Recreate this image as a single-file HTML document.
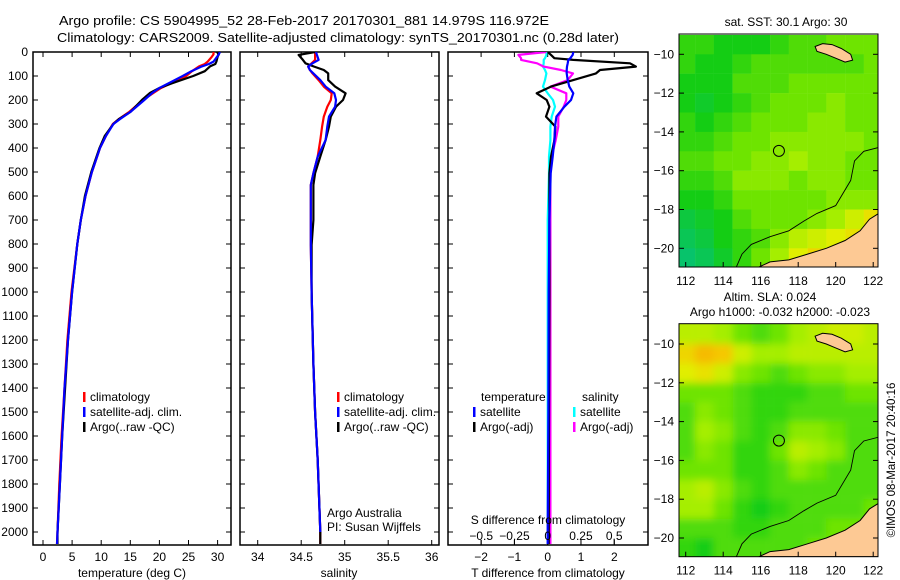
<!DOCTYPE html>
<html><head><meta charset="utf-8">
<style>
html,body{margin:0;padding:0;background:#fff;}
svg{display:block;font-family:"Liberation Sans",sans-serif;}
text{fill:#000;}
</style></head>
<body>
<svg id="fig" width="900" height="580" viewBox="0 0 900 580" xmlns="http://www.w3.org/2000/svg">
<defs>
<clipPath id="c1"><rect x="33" y="52" width="198" height="493"/></clipPath>
<clipPath id="c2"><rect x="240" y="52" width="199" height="493"/></clipPath>
<clipPath id="c3"><rect x="448" y="52" width="200" height="493"/></clipPath>
<clipPath id="cm1"><rect x="679" y="34" width="199" height="233"/></clipPath>
<clipPath id="cm2"><rect x="679" y="324" width="199" height="233"/></clipPath>
<filter id="blur" x="-5%" y="-5%" width="110%" height="110%"><feGaussianBlur stdDeviation="4"/></filter>
</defs>
<text x="59" y="25" font-size="13" textLength="490" lengthAdjust="spacingAndGlyphs">Argo profile: CS 5904995_52 28-Feb-2017 20170301_881 14.979S 116.972E</text>
<text x="57" y="42" font-size="13" textLength="562" lengthAdjust="spacingAndGlyphs">Climatology: CARS2009. Satellite-adjusted climatology: synTS_20170301.nc (0.28d later)</text>
<g id="g1"></g>
<g id="g2"></g>
<g id="g3"></g>
<g id="m1"></g>
<g id="m2"></g>
<text x="786" y="26" font-size="12" text-anchor="middle">sat. SST: 30.1 Argo: 30</text>
<text x="770" y="301" font-size="12" text-anchor="middle">Altim. SLA: 0.024</text>
<text x="780" y="316" font-size="12" text-anchor="middle">Argo h1000: -0.032 h2000: -0.023</text>
<text transform="translate(895,460) rotate(-90)" font-size="11.5" text-anchor="middle">©IMOS 08-Mar-2017 20:40:16</text>
</svg>
<script>
// ---- profile data ----
const depthT=[0,10,20,40,50,60,80,100,130,150,170,200,250,280,300,350,400,500,600,700,800,1000,1200,1400,1600,1800,2000,2050];
const tempClim=[29.3,29.3,29.0,28.3,27.8,26.8,25.6,24.6,22.0,20.3,19.0,17.2,14.8,13.0,12.0,10.8,9.8,8.4,7.3,6.5,5.9,4.9,4.2,3.7,3.2,2.8,2.5,2.4];
const tempSat=[30.4,30.2,29.9,29.3,28.5,27.3,25.5,24.0,21.6,20.0,18.8,17.4,15.0,13.2,12.1,10.8,9.8,8.4,7.3,6.5,5.9,5.0,4.3,3.7,3.3,2.9,2.5,2.4];
const tempArgo=[29.9,30.2,30.0,29.8,29.6,28.7,27.8,25.8,22.2,20.0,18.4,17.0,15.0,13.0,12.1,10.6,9.7,8.3,7.2,6.5,5.9,5.0,4.3,3.8,3.3,2.9,2.5,2.5];
const depthS=[0,12,33,47,61,75,89,117,144,172,200,228,269,311,367,436,505,554,700,804,1000,1300,1500,1700,2000,2050];
const salClim=[34.66,34.66,34.66,34.62,34.58,34.60,34.63,34.70,34.76,34.85,34.84,34.80,34.76,34.74,34.72,34.69,34.64,34.61,34.61,34.61,34.62,34.64,34.66,34.69,34.72,34.72];
const salSat=[34.67,34.68,34.70,34.63,34.58,34.60,34.64,34.72,34.78,34.88,34.90,34.89,34.82,34.80,34.78,34.69,34.64,34.61,34.61,34.61,34.62,34.64,34.66,34.69,34.72,34.72];
const salArgo=[34.66,34.47,34.52,34.55,34.65,34.76,34.81,34.81,34.89,35.01,34.98,34.90,34.84,34.82,34.78,34.72,34.66,34.64,34.64,34.62,34.62,34.64,34.66,34.69,34.72,34.72];
const depthD=[0,12,26,33,47,61,75,89,117,144,172,200,228,269,311,367,436,505,700,1000,1500,2000,2050];
const dTsat=[0.77,0.75,0.68,0.62,0.6,0.58,0.57,0.57,0.6,0.65,0.77,0.7,0.5,0.26,0.22,0.2,0.15,0.09,0.05,0.03,0.02,0.0,0.0];
const dTargo=[0.0,0.1,0.2,0.77,2.47,2.65,1.57,1.45,0.77,0.1,-0.33,-0.03,0.05,-0.05,0.23,0.2,0.1,0.05,0.05,0.05,0.04,0.03,0.03];
const dSsat=[-0.01,-0.01,-0.02,-0.03,-0.03,-0.035,-0.02,-0.01,-0.02,-0.035,0.0,0.04,0.055,0.03,0.02,0.02,0.01,0.01,0.0,0.0,0.0,0.0,0.0];
const dSargo=[-0.01,-0.22,-0.2,-0.2,-0.08,-0.03,0.1,0.19,0.15,0.02,0.14,0.14,0.12,0.08,0.08,0.06,0.03,0.02,0.02,0.02,0.02,0.02,0.02];
const depthTicks=[0,100,200,300,400,500,600,700,800,900,1000,1100,1200,1300,1400,1500,1600,1700,1800,1900,2000];
const tTicks=[0,5,10,15,20,25,30];
const sTicks=[34,34.5,35,35.5,36];
const sTickLabels=["34","34.5","35","35.5","36"];
const dTTicks=[-2,-1,0,1,2];
const dSTicks=[-0.5,-0.25,0,0.25,0.5];
const dSTickLabels=["\u22120.5","\u22120.25","0","0.25","0.5"];
// ---- map data (coarse cells, value 0..1) ----
const mapLons=[112,113,114,115,116,117,118,119,120,121,122];
const mapLats=[-9.5,-10.5,-11.5,-12.5,-13.5,-14.5,-15.5,-16.5,-17.5,-18.5,-19.5,-20.5];
const sstGrid=[
[.35,.35,.3,.3,.3,.35,.4,.4,.45,.45,.45],
[.35,.3,.3,.35,.4,.4,.4,.4,.4,.4,.45],
[.3,.3,.3,.4,.4,.4,.45,.45,.45,.45,.45],
[.3,.25,.3,.35,.4,.45,.45,.45,.5,.45,.45],
[.35,.3,.35,.4,.45,.45,.45,.5,.5,.45,.45],
[.35,.35,.4,.45,.45,.5,.5,.5,.5,.5,.45],
[.4,.4,.45,.45,.5,.5,.55,.5,.5,.45,.45],
[.35,.35,.4,.5,.5,.5,.45,.5,.5,.45,.45],
[.3,.3,.35,.45,.45,.45,.45,.45,.5,.5,.5],
[.2,.25,.3,.4,.45,.45,.45,.5,.55,.65,.75],
[.15,.2,.3,.35,.4,.5,.6,.65,.7,.75,.8],
[.1,.15,.25,.35,.45,.55,.7,.8,.8,.8,.8]];
const slaGrid=[
[.6,.6,.55,.45,.4,.45,.55,.6,.65,.65,.6],
[.8,.9,.85,.65,.55,.55,.6,.6,.6,.6,.6],
[.7,.75,.65,.5,.45,.4,.45,.5,.5,.55,.55],
[.45,.45,.45,.4,.35,.35,.35,.4,.4,.45,.45],
[.4,.5,.45,.4,.35,.35,.4,.4,.4,.4,.4],
[.4,.55,.5,.4,.35,.4,.5,.5,.45,.4,.4],
[.4,.5,.45,.35,.35,.45,.6,.55,.5,.4,.4],
[.45,.45,.45,.35,.35,.4,.5,.45,.4,.4,.4],
[.55,.6,.5,.4,.35,.4,.4,.4,.4,.4,.4],
[.55,.55,.45,.35,.3,.35,.4,.4,.4,.4,.45],
[.4,.4,.4,.35,.35,.4,.4,.4,.45,.45,.45],
[.35,.3,.4,.4,.4,.4,.4,.45,.45,.45,.45]];
const mapLonTicks=[112,114,116,118,120,122];
const mapLatTicks=[-10,-12,-14,-16,-18,-20];
const coastLon=[115.9,116.5,117.5,118.5,119.5,120.5,121.3,121.8,122.3,122.3,115.9];
const coastLat=[-20.97,-20.7,-20.6,-20.3,-20.0,-19.6,-19.1,-18.5,-18.2,-20.97,-20.97];
const islandLon=[118.9,119.3,119.8,120.3,120.8,120.9,120.5,120.0,119.5,119.0];
const islandLat=[-9.6,-9.45,-9.5,-9.7,-10.0,-10.3,-10.4,-10.2,-10.0,-9.85];
const bathLon=[114.7,115.0,115.5,116.5,117.5,118.3,119.0,120.0,120.8,121.0,121.5,122.3];
const bathLat=[-20.97,-20.3,-19.8,-19.4,-19.1,-18.6,-18.2,-17.8,-16.5,-15.5,-15.0,-14.8];
const argoLon=116.972, argoLat=-14.979;

const NS="http://www.w3.org/2000/svg";
function mk(tag,attrs,parent){const e=document.createElementNS(NS,tag);for(const k in attrs)e.setAttribute(k,attrs[k]);parent.appendChild(e);return e;}
const yD=d=>52+d*0.24;
const xT=t=>43+t*5.82;
const xS=s=>257.7+(s-34)*87;
const xDT=t=>547.7+t*33.3;
const xDS=s=>547.7+s*133;

function frame(g,x0,x1,ticksX,ticksY){
  const r=mk('rect',{x:x0,y:52,width:x1-x0,height:493,fill:'none',stroke:'#000','stroke-width':1.5},g);
  
  
  ticksY.forEach(d=>{const y=yD(d);
    mk('line',{x1:x0,x2:x0+5,y1:y,y2:y,stroke:'#000'},g);
    mk('line',{x1:x1,x2:x1-5,y1:y,y2:y,stroke:'#000'},g);});
  ticksX.forEach(x=>{mk('line',{x1:x,x2:x,y1:545,y2:540,stroke:'#000'},g);mk('line',{x1:x,x2:x,y1:52,y2:57,stroke:'#000'},g);});
}
function line(g,xs,ds,xf,color,clip,name){
  const pts=xs.map((v,i)=>xf(v).toFixed(1)+','+yD(ds[i]).toFixed(1)).join(' ');
  const p=mk('polyline',{points:pts,fill:'none',stroke:color,'stroke-width':2.2,'clip-path':clip,'stroke-linejoin':'round'},g);
  
  
}
function txt(g,x,y,s,opts,name){const t=mk('text',Object.assign({x:x,y:y,'font-size':12},opts||{}),g);t.textContent=s;
  
  
  return t;}
function legend(g,x,y,color,label,name){
  const r=mk('rect',{x:x,y:y-9,width:2.5,height:10,fill:color},g);
  
  
  txt(g,x+7,y,label,{},name);
}

// panel 1
const g1=document.getElementById('g1');
frame(g1,33,231,tTicks.map(xT),depthTicks);
depthTicks.forEach(d=>txt(g1,28,yD(d)+4,String(d),{'text-anchor':'end'},'depth-tick-label'));
tTicks.forEach(t=>txt(g1,xT(t),561,String(t),{'text-anchor':'middle'},'temp-tick-label'));
txt(g1,132,577,'temperature (deg C)',{'text-anchor':'middle'},'temp-axis-title');
line(g1,tempClim,depthT,xT,'#f00','url(#c1)','temp-climatology-line');
line(g1,tempArgo,depthT,xT,'#000','url(#c1)','temp-argo-line');
line(g1,tempSat,depthT,xT,'#00f','url(#c1)','temp-satellite-line');
legend(g1,83,401,'#f00','climatology','legend-climatology');
legend(g1,83,416,'#00f','satellite-adj. clim.','legend-satellite');
legend(g1,83,431,'#000','Argo(..raw -QC)','legend-argo');

// panel 2
const g2=document.getElementById('g2');
frame(g2,240,439,sTicks.map(xS),depthTicks);
sTicks.forEach((s,i)=>txt(g2,xS(s),561,sTickLabels[i],{'text-anchor':'middle'},'sal-tick-label'));
txt(g2,339,577,'salinity',{'text-anchor':'middle'},'sal-axis-title');
line(g2,salClim,depthS,xS,'#f00','url(#c2)','sal-climatology-line');
line(g2,salArgo,depthS,xS,'#000','url(#c2)','sal-argo-line');
line(g2,salSat,depthS.map(d=>Math.min(d,2000)),xS,'#00f','url(#c2)','sal-satellite-line');
legend(g2,337,401,'#f00','climatology','legend-climatology');
legend(g2,337,416,'#00f','satellite-adj. clim.','legend-satellite');
legend(g2,337,431,'#000','Argo(..raw -QC)','legend-argo');
txt(g2,327,517,'Argo Australia',{},'credit-argo-australia');
txt(g2,327,531,'PI: Susan Wijffels',{},'credit-pi');

// panel 3
const g3=document.getElementById('g3');
frame(g3,448,648,dTTicks.map(xDT),depthTicks);
dSTicks.forEach(s=>mk('line',{x1:xDS(s),x2:xDS(s),y1:545,y2:540,stroke:'#000'},g3));
line(g3,dSsat,depthD,xDS,'#0ff','url(#c3)','sdiff-satellite-line');
line(g3,dSargo,depthD,xDS,'#f0f','url(#c3)','sdiff-argo-line');
line(g3,dTargo,depthD,xDT,'#000','url(#c3)','tdiff-argo-line');
line(g3,dTsat,depthD,xDT,'#00f','url(#c3)','tdiff-satellite-line');
dTTicks.forEach(t=>txt(g3,xDT(t),561,t<0?'\u2212'+Math.abs(t):String(t),{'text-anchor':'middle'},'tdiff-tick-label'));
dSTicks.forEach((s,i)=>txt(g3,xDS(s),540,dSTickLabels[i],{'text-anchor':'middle'},'sdiff-tick-label'));
txt(g3,548,524,'S difference from climatology',{'text-anchor':'middle'},'sdiff-axis-title');
txt(g3,548,577,'T difference from climatology',{'text-anchor':'middle'},'tdiff-axis-title');
txt(g3,481,401,'temperature',{},'legend-temperature-heading');
txt(g3,582,401,'salinity',{},'legend-salinity-heading');
legend(g3,473,416,'#00f','satellite','legend-t-satellite');
legend(g3,473,431,'#000','Argo(-adj)','legend-t-argo');
legend(g3,573,416,'#0ff','satellite','legend-s-satellite');
legend(g3,573,431,'#f0f','Argo(-adj)','legend-s-argo');

// maps
const cstops=[[0,[0,190,150]],[0.3,[20,205,20]],[0.45,[110,228,0]],[0.55,[165,238,0]],[0.7,[225,238,0]],[0.85,[245,200,0]],[1,[245,160,0]]];
function cmap(v){for(let i=1;i<cstops.length;i++){if(v<=cstops[i][0]){const a=cstops[i-1],b=cstops[i];const f=(v-a[0])/(b[0]-a[0]);
  const c=a[1].map((x,j)=>Math.round(x+(b[1][j]-x)*f));return 'rgb('+c.join(',')+')';}}return 'rgb(245,160,0)';}
function drawMap(id,grid,oy,clip,smooth){
  const g=document.getElementById(id);
  const mx=lon=>685.7+(lon-112)*18.75;
  const my=lat=>oy+54.3+(-10-lat)*19.4;
  const cg=mk('g',{'clip-path':clip},g);
  const fg=mk('g',smooth?{filter:'url(#blur)'}:{},cg);
  mapLats.forEach((lat,r)=>mapLons.forEach((lon,c)=>{
    const ex=smooth?8:0;
    const x0=mx(lon-0.5)-(c===0?ex:0), y0=my(lat+0.5)-(r===0?ex:0);
    const w=18.9+(c===0?ex:0)+(c===mapLons.length-1?ex:0);
    const h=19.6+(r===0?ex:0)+(r===mapLats.length-1?ex:0);
    const rc=mk('rect',{x:x0,y:y0,width:w,height:h,fill:cmap(grid[r][c])},fg);
    
    
  }));
  const pts=(lo,la)=>lo.map((v,i)=>mx(v).toFixed(1)+','+my(la[i]).toFixed(1)).join(' ');
  const land=mk('polygon',{points:pts(coastLon,coastLat),fill:'#fdc994',stroke:'#000','stroke-width':1},cg);
  
  
  const isl=mk('polygon',{points:pts(islandLon,islandLat),fill:'#fdc994',stroke:'#000','stroke-width':1},cg);
  
  
  const bl=mk('polyline',{points:pts(bathLon,bathLat),fill:'none',stroke:'#000','stroke-width':0.9},cg);
  
  
  const ci=mk('circle',{cx:mx(argoLon),cy:my(argoLat),r:5.5,fill:'none',stroke:'#000','stroke-width':1},g);
  
  
  const fr=mk('rect',{x:679,y:oy+34,width:199,height:233,fill:'none',stroke:'#000','stroke-width':1},g);
  
  
  mapLonTicks.forEach(lon=>{const x=mx(lon);mk('line',{x1:x,x2:x,y1:oy+267,y2:oy+262,stroke:'#000'},g);
    txt(g,x,oy+285,String(lon),{'text-anchor':'middle','font-size':12},'map-lon-tick-label');});
  mapLatTicks.forEach(lat=>{const y=my(lat);mk('line',{x1:679,x2:684,y1:y,y2:y,stroke:'#000'},g);mk('line',{x1:878,x2:873,y1:y,y2:y,stroke:'#000'},g);
    txt(g,674,y+4,'\u2212'+Math.abs(lat),{'text-anchor':'end','font-size':12},'map-lat-tick-label');});
}
drawMap('m1',sstGrid,0,'url(#cm1)',false);
drawMap('m2',slaGrid,289.7,'url(#cm2)',true);
</script>
</body></html>
